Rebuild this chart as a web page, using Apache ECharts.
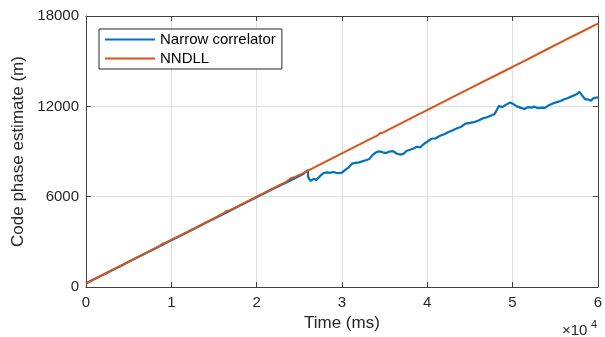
<!DOCTYPE html>
<html>
<head>
<meta charset="utf-8">
<script src="https://cdn.jsdelivr.net/npm/echarts@6/dist/echarts.min.js"></script>
<style>
  html, body { margin: 0; padding: 0; background: #fff; }
  #chart { width: 605px; height: 337px; }
</style>
</head>
<body>
<div id="chart"></div>
<script>
// time (ms), code phase estimate (m)
const narrowCorrelator = [
  [0, 250], [2000, 820], [4000, 1390], [6000, 1960], [8000, 2530], [10000, 3110],
  [12000, 3680], [14000, 4250], [16000, 4820], [18000, 5400], [20000, 5960],
  [22000, 6540], [23500, 6950], [24500, 7230], [25500, 7530], [26000, 7760],
  [26050, 7300], [26300, 7050], [26700, 7180], [27000, 7120], [27400, 7350],
  [27800, 7560], [28200, 7620], [28600, 7580], [29000, 7640], [29500, 7560],
  [30000, 7600], [30400, 7780], [30800, 7950], [31200, 8200], [31600, 8250],
  [32000, 8280], [32400, 8350], [32800, 8420], [33200, 8500], [33600, 8780],
  [34000, 8950], [34400, 9010], [34800, 8950], [35200, 8900], [35600, 9000],
  [36000, 9030], [36400, 8870], [36800, 8800], [37200, 8850], [37600, 9050],
  [38000, 9120], [38400, 9200], [38800, 9320], [39200, 9280], [39600, 9500],
  [40000, 9650], [40500, 9850], [41000, 9880], [41500, 10050], [42000, 10150],
  [42500, 10300], [43000, 10420], [43500, 10550], [44000, 10650], [44500, 10860],
  [45000, 10900], [45500, 10950], [46000, 11060], [46500, 11200], [47000, 11280],
  [47500, 11400], [47900, 11500], [48100, 11700], [48400, 12030], [48800, 11950],
  [49200, 12100], [49700, 12250], [50100, 12150], [50500, 12000], [51000, 11900],
  [51400, 11830], [51800, 11950], [52200, 11920], [52600, 11980], [53000, 11880],
  [53400, 11920], [53800, 11900], [54200, 12050], [54600, 12150], [55000, 12250],
  [55500, 12330], [56000, 12450], [56500, 12560], [57000, 12680], [57500, 12800],
  [57850, 12960], [58200, 12700], [58500, 12480], [58900, 12450], [59200, 12380],
  [59500, 12550], [60000, 12600]
];

const nndll = [
  [0, 250], [3000, 1110], [6000, 1975], [8700, 2760], [9000, 2900], [9300, 2930],
  [12000, 3700], [15000, 4560], [16200, 4930], [16500, 5060], [16800, 5080],
  [18000, 5425], [21000, 6290], [23500, 7010], [24000, 7230], [24500, 7320],
  [25000, 7440], [27000, 8010], [30000, 8875], [33000, 9740], [34200, 10080],
  [34500, 10230], [34800, 10250], [36000, 10600], [38700, 11380], [39000, 11480],
  [39300, 11550], [42000, 12325], [45000, 13190], [48000, 14050], [51000, 14910],
  [54000, 15775], [57000, 16640], [60000, 17500]
];

const seriesNames = ['Narrow correlator', 'NNDLL'];
const seriesColors = ['#0072BD', '#D95319'];
const xTicks = [0, 60000, 10000];   // min, max, interval
const yTicks = [0, 18000, 6000];

const font = 'Liberation Sans, Arial, Helvetica, sans-serif';
const axisColor = '#404040';
const textColor = '#262626';

const chart = echarts.init(document.getElementById('chart'));

const baseX = {
  type: 'value',
  min: xTicks[0],
  max: xTicks[1],
  interval: xTicks[2],
  axisLine: { show: true, onZero: false, lineStyle: { color: axisColor, width: 1 } },
  axisTick: { show: true, inside: true, length: 5, lineStyle: { color: axisColor } }
};
const baseY = {
  type: 'value',
  min: yTicks[0],
  max: yTicks[1],
  interval: yTicks[2],
  axisLine: { show: true, onZero: false, lineStyle: { color: axisColor, width: 1 } },
  axisTick: { show: true, inside: true, length: 5, lineStyle: { color: axisColor } }
};

chart.setOption({
  animation: false,
  backgroundColor: '#fff',
  grid: { left: 86, right: 5, top: 16, bottom: 47, containLabel: false },
  legend: {
    data: seriesNames,
    orient: 'vertical',
    left: 99,
    top: 29,
    itemWidth: 50,
    itemHeight: 2,
    itemGap: 4,
    icon: 'rect',
    padding: [3, 6, 3, 6],
    borderColor: '#262626',
    borderWidth: 1,
    backgroundColor: '#fff',
    textStyle: { fontFamily: font, fontSize: 15, color: '#000' }
  },
  xAxis: [
    Object.assign({}, baseX, {
      position: 'bottom',
      name: 'Time (ms)',
      nameLocation: 'middle',
      nameGap: 22,
      nameTextStyle: { fontFamily: font, fontSize: 17, color: textColor },
      axisLabel: {
        fontFamily: font, fontSize: 15, color: textColor, margin: 8,
        formatter: v => String(v / 10000)
      },
      splitLine: { show: true, lineStyle: { color: '#dfdfdf', width: 1 } }
    }),
    Object.assign({}, baseX, {
      position: 'top',
      axisLabel: { show: false },
      splitLine: { show: false }
    })
  ],
  yAxis: [
    Object.assign({}, baseY, {
      position: 'left',
      name: 'Code phase estimate (m)',
      nameLocation: 'middle',
      nameGap: 47,
      nameTextStyle: { fontFamily: font, fontSize: 17, color: textColor },
      axisLabel: {
        fontFamily: font, fontSize: 15, color: textColor, margin: 7,
        formatter: v => String(v)
      },
      splitLine: { show: true, lineStyle: { color: '#dfdfdf', width: 1 } }
    }),
    Object.assign({}, baseY, {
      position: 'right',
      axisLabel: { show: false },
      splitLine: { show: false }
    })
  ],
  graphic: [
    { type: 'text', left: 562, top: 323, style: { text: '×10', fontFamily: font, fontSize: 15, fill: textColor } },
    { type: 'text', left: 591, top: 319, style: { text: '4', fontFamily: font, fontSize: 11, fill: textColor } }
  ],
  series: [
    {
      name: seriesNames[0],
      type: 'line',
      data: narrowCorrelator,
      symbol: 'none',
      color: seriesColors[0],
      lineStyle: { width: 2.2, color: seriesColors[0] }
    },
    {
      name: seriesNames[1],
      type: 'line',
      data: nndll,
      symbol: 'none',
      color: seriesColors[1],
      lineStyle: { width: 2, color: seriesColors[1] }
    }
  ]
});
</script>
</body>
</html>
